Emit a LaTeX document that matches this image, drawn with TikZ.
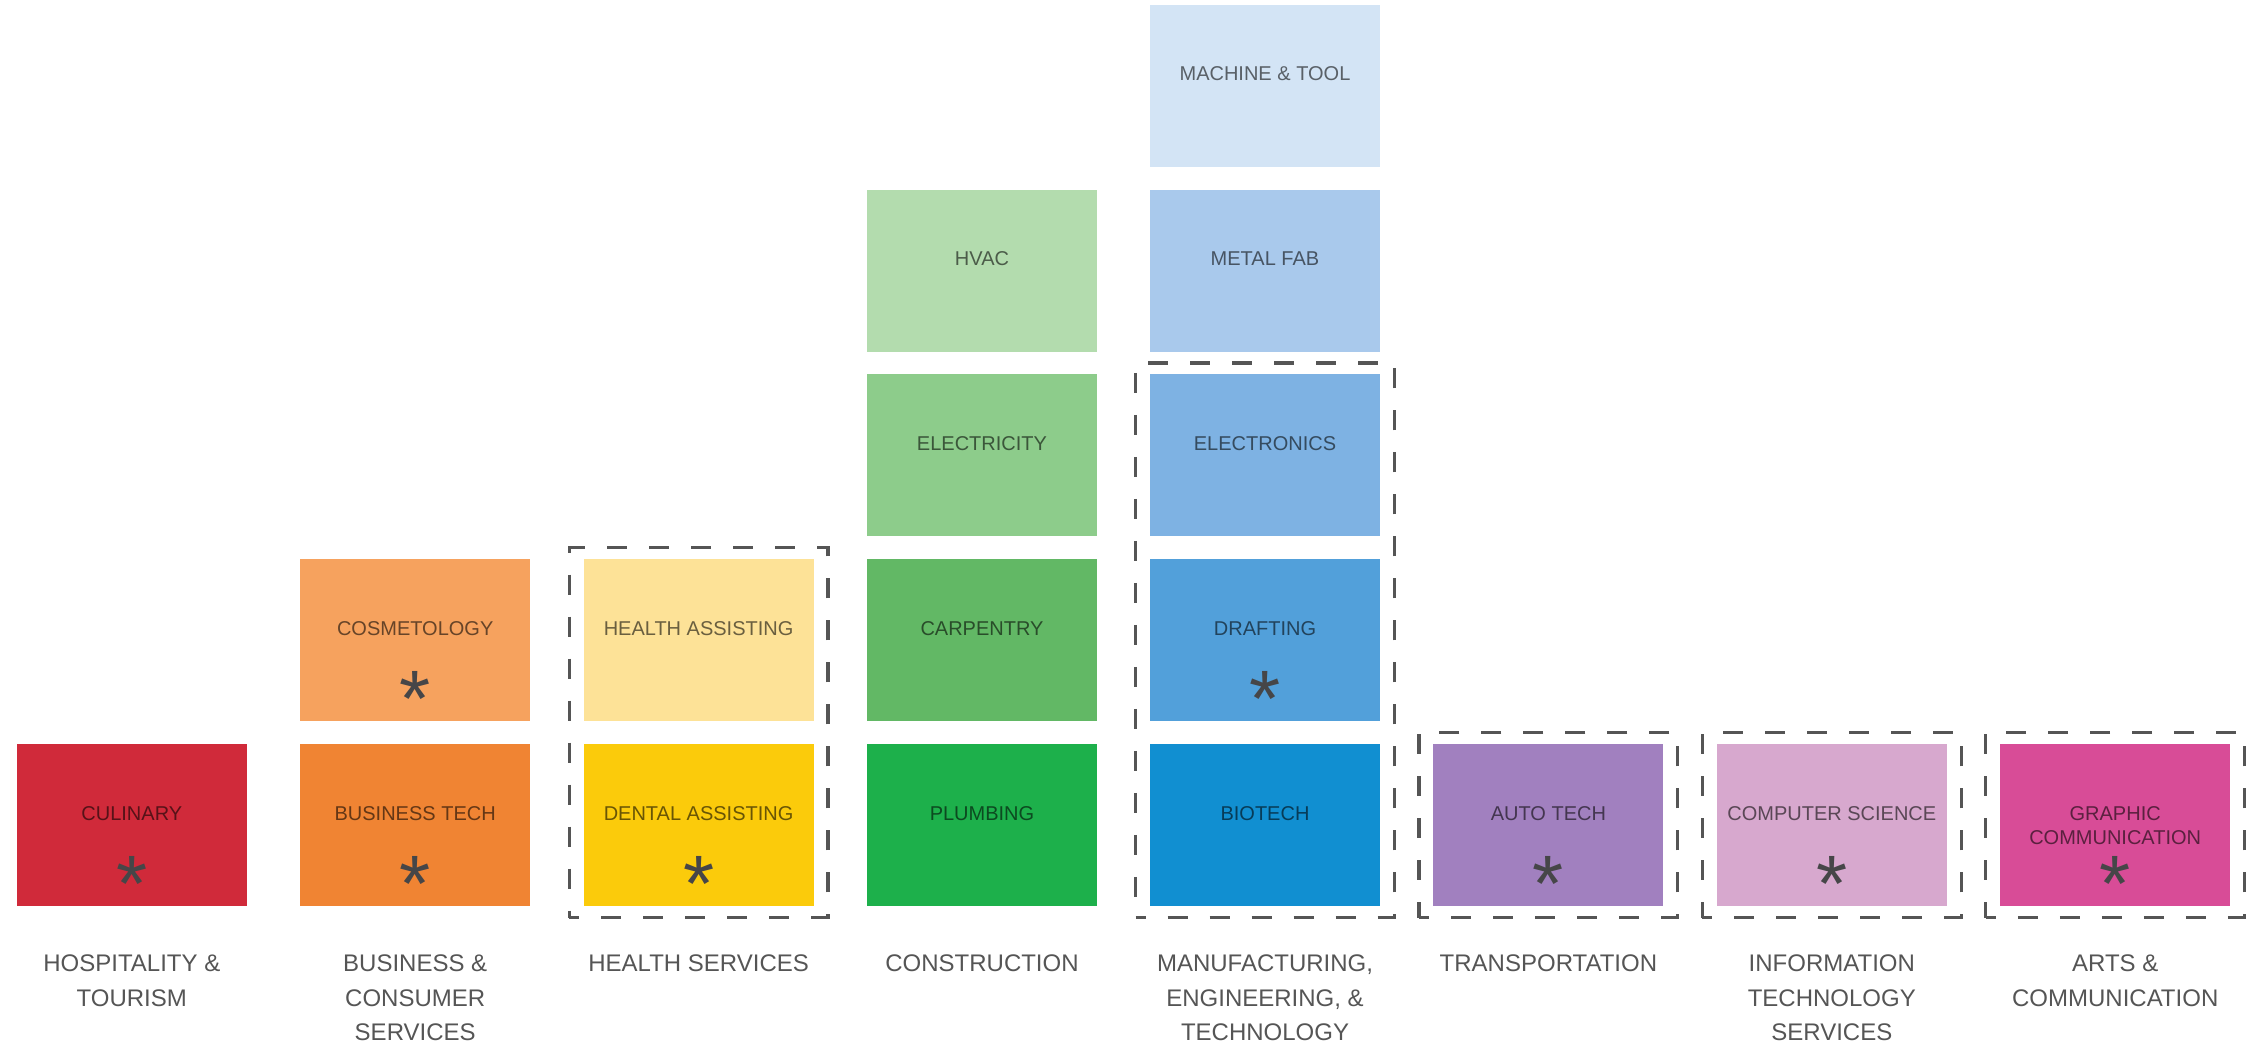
\documentclass[tikz,border=0pt]{standalone}
\usepackage{fontspec}
\setmainfont{Liberation Sans}
\usetikzlibrary{matrix, positioning, fit}

\definecolor{culinary}{RGB}{208,42,58}
\definecolor{bustech}{RGB}{240,132,51}
\definecolor{cosmet}{RGB}{246,162,94}
\definecolor{healthas}{RGB}{253,226,151}
\definecolor{dental}{RGB}{251,203,11}
\definecolor{plumb}{RGB}{29,176,75}
\definecolor{carpent}{RGB}{98,184,101}
\definecolor{electric}{RGB}{141,204,139}
\definecolor{hvac}{RGB}{179,220,174}
\definecolor{biotech}{RGB}{17,143,209}
\definecolor{drafting}{RGB}{82,160,218}
\definecolor{electron}{RGB}{126,178,227}
\definecolor{metalfab}{RGB}{169,201,236}
\definecolor{mchtool}{RGB}{211,228,245}
\definecolor{autotech}{RGB}{161,128,191}
\definecolor{compsci}{RGB}{215,168,206}
\definecolor{graphic}{RGB}{216,76,151}
\definecolor{astgray}{RGB}{70,70,72}
\definecolor{grpgray}{RGB}{85,85,85}
\definecolor{catgray}{RGB}{85,85,85}

\begin{document}
\begin{tikzpicture}[x=1pt, y=1pt,
  cell/.style={fill=#1, text=#1!42!black, minimum width=115pt, minimum height=81pt,
    inner sep=0pt, text depth=12pt, align=center, font=\fontsize{10}{12}\selectfont},
  ast/.style={text=astgray, inner sep=0pt, anchor=base, font=\fontsize{40}{40}\selectfont},
  grp/.style={draw=grpgray, line width=1.6pt, dash pattern=on 10pt off 11pt, dash phase=5pt,
    inner xsep=7pt, inner ysep=5.5pt},
  cat/.style={text=catgray, inner sep=0pt, align=center, font=\fontsize{12}{17.3}\selectfont}]
\useasboundingbox (0,0) rectangle (1130,522.5);
\matrix (m) [inner sep=0pt, column sep=26.5pt, row sep=11.25pt, anchor=south west] at (8,69) {
 & & & & \node[cell=mchtool](e5){MACHINE \& TOOL}; & & & \\
 & & & \node[cell=hvac](d4){HVAC}; & \node[cell=metalfab](d5){METAL FAB}; & & & \\
 & & & \node[cell=electric](c4){ELECTRICITY}; & \node[cell=electron](c5){ELECTRONICS}; & & & \\
 & \node[cell=cosmet](b2){COSMETOLOGY}; & \node[cell=healthas](b3){HEALTH ASSISTING}; & \node[cell=carpent](b4){CARPENTRY}; & \node[cell=drafting](b5){DRAFTING}; & & & \\
 \node[cell=culinary](a1){CULINARY}; & \node[cell=bustech](a2){BUSINESS TECH}; & \node[cell=dental](a3){DENTAL ASSISTING}; & \node[cell=plumb](a4){PLUMBING}; & \node[cell=biotech](a5){BIOTECH}; & \node[cell=autotech](a6){AUTO TECH}; & \node[cell=compsci](a7){COMPUTER SCIENCE}; & \node[cell=graphic, text depth=0pt](a8){GRAPHIC\\COMMUNICATION}; \\
};
% asterisks
\foreach \c in {a1,a2,b2,a3,b5,a6,a7,a8}
  \node[ast] (s\c) at ([yshift=-43.1pt]\c.center) {*};
% dashed groups
\node[grp, fit=(b3)(a3)] (g3) {};
\node[grp, fit=(c5)(a5)] (g5) {};
\foreach \c in {6,7,8}
  \node[grp, fit=(a\c)] (g\c) {};
% category labels
\node[cat, below=24pt of a1] (l1) {HOSPITALITY \&\\TOURISM};
\node[cat, below=24pt of a2] (l2) {BUSINESS \&\\CONSUMER\\SERVICES};
\node[cat, below=24pt of a3] (l3) {HEALTH SERVICES};
\node[cat, below=24pt of a4] (l4) {CONSTRUCTION};
\node[cat, below=24pt of a5] (l5) {MANUFACTURING,\\ENGINEERING, \&\\TECHNOLOGY};
\node[cat, below=24pt of a6] (l6) {TRANSPORTATION};
\node[cat, below=24pt of a7] (l7) {INFORMATION\\TECHNOLOGY\\SERVICES};
\node[cat, below=24pt of a8] (l8) {ARTS \&\\COMMUNICATION};
\end{tikzpicture}
\end{document}
